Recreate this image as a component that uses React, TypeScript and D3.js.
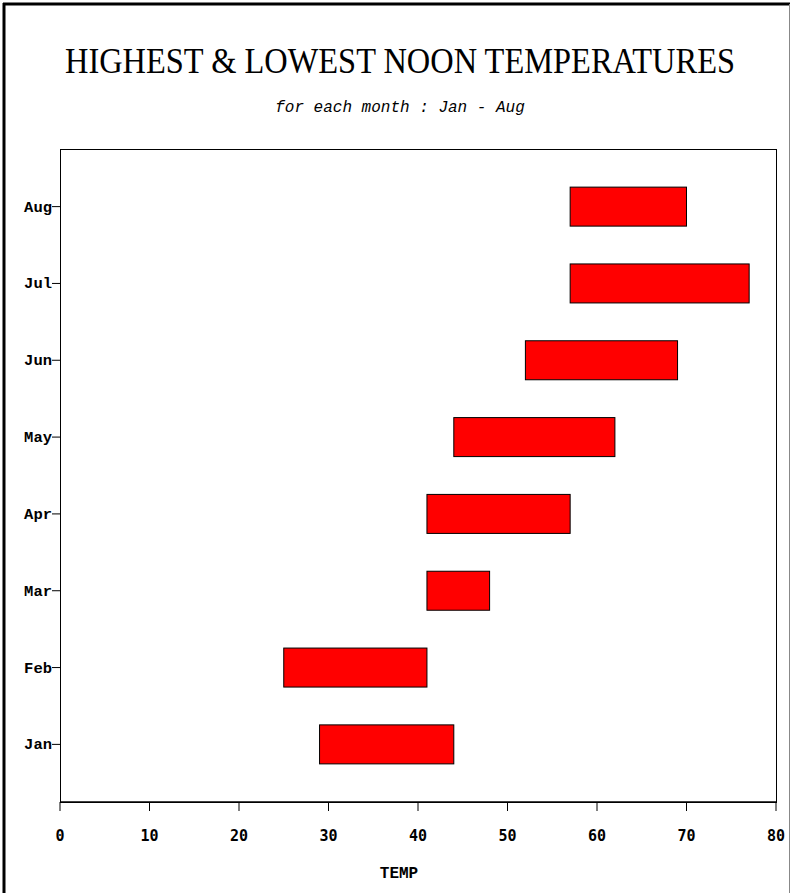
import React from "react";
import * as d3 from "d3";

const months = ["Jan", "Feb", "Mar", "Apr", "May", "Jun", "Jul", "Aug"];
const lowTemps = [29, 25, 41, 41, 44, 52, 57, 57];
const highTemps = [44, 41, 48, 57, 62, 69, 77, 70];
const xTicks = [0, 10, 20, 30, 40, 50, 60, 70, 80];

const W = 792;
const H = 893;

export default function App() {
  const left = 60, right = 776, top = 149, bottom = 802;
  const x = d3.scaleLinear().domain([0, 80]).range([left, right]);
  const y = d3.scalePoint<string>().domain(months).range([bottom, top]).padding(0.75);
  const barH = 39;
  const data = months.map((m, i) => ({ m, lo: lowTemps[i], hi: highTemps[i] }));

  return (
    <svg width={W} height={H} style={{ position: "absolute", left: 0, top: 0, background: "#fff" }}>
      {/* outer frame */}
      <line x1={4} y1={3} x2={4} y2={H} stroke="#000" strokeWidth={3} />
      <line x1={3} y1={4} x2={790} y2={4} stroke="#000" strokeWidth={3} />
      <line x1={789.5} y1={4} x2={789.5} y2={H} stroke="#888" strokeWidth={1} />

      <text x={400} y={73} textAnchor="middle" fontFamily="'Liberation Serif', 'Times New Roman', serif" fontSize={35}
        textLength={670} lengthAdjust="spacingAndGlyphs">
        HIGHEST &amp; LOWEST NOON TEMPERATURES
      </text>
      <text x={400} y={112} textAnchor="middle" fontFamily="'Liberation Mono', monospace" fontStyle="italic" fontSize={16}>
        for each month : Jan - Aug
      </text>

      {/* plot frame */}
      <rect x={left} y={top} width={right - left} height={bottom - top} fill="none" stroke="#000" strokeWidth={1} shapeRendering="crispEdges" />
      <line x1={left} x2={right} y1={bottom} y2={bottom} stroke="#000" strokeWidth={1.5} />

      {/* bars */}
      {data.map((d) => (
        <rect
          key={d.m}
          x={x(d.lo)}
          y={(y(d.m) as number) - barH / 2}
          width={x(d.hi) - x(d.lo)}
          height={barH}
          fill="#ff0000"
          stroke="#000"
          strokeWidth={1}
        />
      ))}

      {/* y axis ticks */}
      {months.map((m) => (
        <g key={m}>
          <line x1={left - 8} x2={left} y1={y(m)} y2={y(m)} stroke="#000" strokeWidth={1} />
          <text x={left - 8} y={(y(m) as number) + 5} textAnchor="end" fontFamily="'Liberation Mono', monospace" fontWeight="bold" fontSize={15.5}>
            {m}
          </text>
        </g>
      ))}

      {/* x axis ticks */}
      {xTicks.map((t) => (
        <g key={t}>
          <line x1={x(t)} x2={x(t)} y1={bottom} y2={bottom + 9} stroke="#000" strokeWidth={1} />
          <text x={x(t)} y={841} textAnchor="middle" fontFamily="'DejaVu Sans Mono', monospace" fontWeight="bold" fontSize={15}>
            {t}
          </text>
        </g>
      ))}
      <text x={399} y={878} textAnchor="middle" fontFamily="'Liberation Mono', monospace" fontWeight="bold" fontSize={16}>
        TEMP
      </text>
    </svg>
  );
}
